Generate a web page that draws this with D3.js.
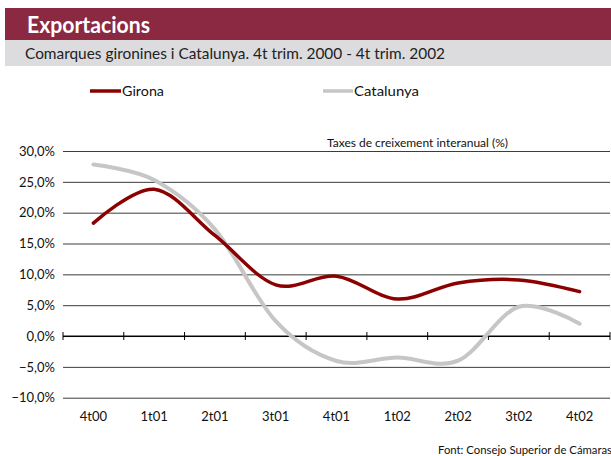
<!DOCTYPE html>
<html>
<head>
<meta charset="utf-8">
<script src="https://cdn.jsdelivr.net/npm/d3@7"></script>
<style>
  html, body { margin: 0; padding: 0; background: #fff; }
  svg { display: block; }
  text { font-family: "Lato", "Liberation Sans", Arial, sans-serif; }
</style>
</head>
<body>
<svg id="chart" width="611" height="456"></svg>
<script>
const categories = ["4t00", "1t01", "2t01", "3t01", "4t01", "1t02", "2t02", "3t02", "4t02"];
const girona    = [18.3, 23.8, 16.3, 8.3, 9.7, 6.0, 8.6, 9.1, 7.2];
const catalunya = [27.8, 25.3, 17.3, 2.4, -4.05, -3.5, -4.0, 4.75, 2.0];
const yTicks = [-10, -5, 0, 5, 10, 15, 20, 25, 30];
const seriesNames = ["Girona", "Catalunya"];

const svg = d3.select("#chart");
const W = 611, H = 456;

// Header bars
svg.append("rect").attr("x", 5).attr("y", 8).attr("width", W - 5).attr("height", 32).attr("fill", "#8b2943");
svg.append("text").attr("x", 27).attr("y", 33).attr("fill", "#fff")
  .attr("font-size", 22).attr("font-weight", "bold")
  .attr("textLength", 123).attr("lengthAdjust", "spacingAndGlyphs")
  .text("Exportacions");
svg.append("rect").attr("x", 5).attr("y", 40).attr("width", W - 5).attr("height", 26).attr("fill", "#dcdcde");
svg.append("text").attr("x", 25).attr("y", 59).attr("fill", "#222")
  .attr("font-size", 16)
  .attr("textLength", 420).attr("lengthAdjust", "spacingAndGlyphs")
  .text("Comarques gironines i Catalunya. 4t trim. 2000 - 4t trim. 2002");

// Scales
const x = d3.scaleBand().domain(categories).range([63, 610]).padding(0);
const cx = c => x(c) + x.bandwidth() / 2;
const y = d3.scaleLinear().domain([-10, 30]).range([397.7, 151]);

// Gridlines + y labels
const fmt = v => d3.format(".1f")(v).replace(".", ",") + "%";
const yAxis = d3.axisLeft(y).tickValues(yTicks).tickSize(-(610 - 63)).tickPadding(8).tickFormat(fmt);
const gy = svg.append("g").attr("transform", "translate(63,0)").call(yAxis);
gy.select(".domain").remove();
gy.selectAll(".tick line").attr("stroke", d => d === 0 ? "#000" : "#3c3c3c").attr("stroke-width", 1);
gy.selectAll(".tick text").attr("font-size", 13).attr("fill", "#111")
  .attr("font-family", "Lato, 'Liberation Sans', Arial, sans-serif");

// x axis at 0 with boundary ticks
const boundaries = categories.map(c => x(c)).concat([x.range()[1]]);
const gx = svg.append("g");
gx.append("line").attr("x1", 63).attr("x2", 610).attr("y1", y(0)).attr("y2", y(0)).attr("stroke", "#000");
gx.selectAll("line.tk").data(boundaries).join("line").attr("class", "tk")
  .attr("x1", d => d).attr("x2", d => d)
  .attr("y1", y(0) - 4).attr("y2", y(0) + 4).attr("stroke", "#000");
gx.selectAll("text").data(categories).join("text")
  .attr("x", d => cx(d)).attr("y", 421).attr("text-anchor", "middle")
  .attr("font-size", 13).attr("fill", "#111").text(d => d);

// Lines
const line = d3.line()
  .x((d, i) => cx(categories[i]))
  .y(d => y(d))
  .curve(d3.curveCardinal.tension(0));

svg.append("path").datum(catalunya).attr("d", line)
  .attr("fill", "none").attr("stroke", "#c6c6c6").attr("stroke-width", 4).attr("stroke-linejoin", "round").attr("stroke-linecap", "round");
svg.append("path").datum(girona).attr("d", line)
  .attr("fill", "none").attr("stroke", "#8b0000").attr("stroke-width", 3.5).attr("stroke-linejoin", "round").attr("stroke-linecap", "round");

// Legend
const legend = [
  { name: seriesNames[0], color: "#8b0000", x1: 90, x2: 121, w: 3.5, tl: 42 },
  { name: seriesNames[1], color: "#c6c6c6", x1: 323, x2: 353, w: 3.5, tl: 65 }
];
legend.forEach(l => {
  svg.append("line").attr("x1", l.x1).attr("x2", l.x2).attr("y1", 91).attr("y2", 91)
    .attr("stroke", l.color).attr("stroke-width", l.w);
  svg.append("text").attr("x", l.x2 + 1).attr("y", 96).attr("font-size", 14).attr("fill", "#111")
    .attr("textLength", l.tl).attr("lengthAdjust", "spacingAndGlyphs").text(l.name);
});

// Annotation
svg.append("text").attr("x", 327).attr("y", 147).attr("font-size", 12).attr("fill", "#111")
  .attr("textLength", 181).attr("lengthAdjust", "spacingAndGlyphs")
  .text("Taxes de creixement interanual (%)");

// Source
svg.append("text").attr("x", 438).attr("y", 454).attr("font-size", 11).attr("fill", "#111")
  .attr("textLength", 174).attr("lengthAdjust", "spacingAndGlyphs")
  .text("Font: Consejo Superior de Cámaras");
</script>
</body>
</html>
